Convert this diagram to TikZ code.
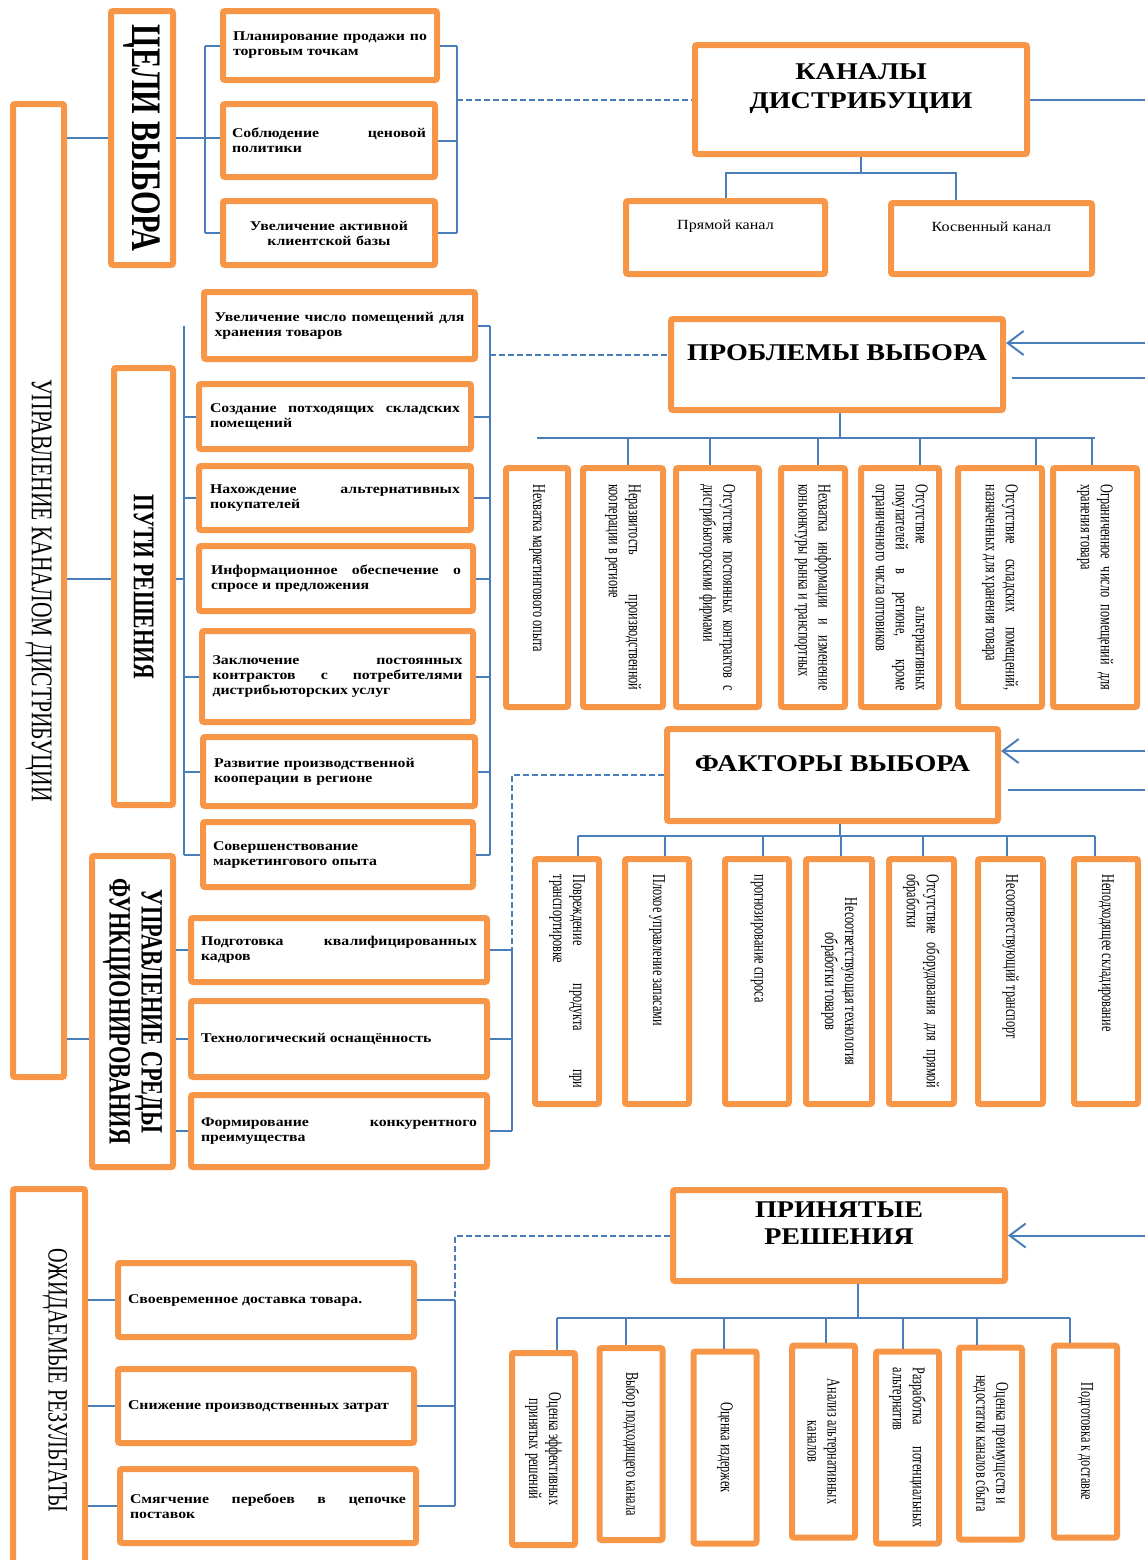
\documentclass[tikz,border=0pt]{standalone}
\usepackage{graphicx}
\usepackage{fontspec}
\setmainfont{Liberation Serif}
\newfontfamily\wideserif[FakeStretch=1.18]{Liberation Serif}
\newfontfamily\titleserif[FakeStretch=1.17]{Liberation Serif}
\newfontfamily\plainserif[FakeStretch=1.15]{Liberation Serif}
\newfontfamily\narrowserif[FakeStretch=0.72]{Liberation Serif}
\newfontfamily\slimserif[FakeStretch=0.68]{Liberation Serif}
\usetikzlibrary{arrows.meta}
\usetikzlibrary{calc}
\definecolor{boxorange}{HTML}{F79646}
\definecolor{linkblue}{HTML}{4A7EBB}
\hyphenpenalty=10000
\exhyphenpenalty=10000
\hbadness=10000
\vbadness=10000
\hfuzz=3pt

\newcommand\leftfont{\wideserif\bfseries\fontsize{6.7}{7.5}\selectfont}
\newcommand\sidefont{\slimserif\fontsize{9}{10}\selectfont}
\newcommand\sidetext[2]{\rotatebox{-90}{\begin{minipage}{#1}\sidefont #2\end{minipage}}}

\tikzset{
    channel box/.style={
        draw=boxorange,
        line width=3pt,
        rounded corners=1pt,
        inner sep=0pt,
    },
    goal box/.style={
        channel box,
        text width=97pt,
        align=justify,
        font=\leftfont,
    },
    way box/.style={
        goal box,
        text width=125pt,
    },
    result box/.style={
        goal box,
        text width=138pt,
    },
    title text/.style={
        inner sep=0pt,
        align=center,
        font=\titleserif\bfseries\fontsize{12}{14.5}\selectfont,
    },
    channel text/.style={
        inner sep=0pt,
        font=\plainserif\fontsize{7}{8.5}\selectfont,
    },
    link line/.style={
        draw=linkblue,
        line width=1pt,
    },
    dashed link/.style={
        link line,
        dash pattern=on 3pt off 1.5pt,
    },
    feed arrow/.style={
        link line,
        -{Straight Barb[length=8pt,width=12pt]},
    },
}

\begin{document}
\begin{tikzpicture}[x=0.5pt, y=-0.5pt]

    \useasboundingbox (0,0) rectangle (1145,1560);
    \coordinate (edge) at (1150,0);

    % left column
    \node[channel box, minimum width=25.5pt, minimum height=486.5pt] (upr) at (38.5,590.5)
        {\rotatebox{-90}{\narrowserif\fontsize{15}{16}\selectfont УПРАВЛЕНИЕ КАНАЛОМ ДИСТРИБУЦИИ}};
    \node[channel box, minimum width=31pt, minimum height=127pt] (celi) at (142,138)
        {\rotatebox{-90}{\narrowserif\bfseries\fontsize{21}{21}\selectfont ЦЕЛИ ВЫБОРА}};
    \node[channel box, minimum width=29.5pt, minimum height=218.5pt] (puti) at (143.5,586.5)
        {\rotatebox{-90}{\narrowserif\bfseries\fontsize{15}{15}\selectfont ПУТИ РЕШЕНИЯ}};
    \node[channel box, minimum width=40.5pt, minimum height=155.5pt] (sredy) at (132.5,1011.5)
        {\rotatebox{-90}{\begin{minipage}{150pt}\centering\narrowserif\bfseries\fontsize{15.5}{16}\selectfont
            УПРАВЛЕНИЕ СРЕДЫ\\ФУНКЦИОНИРОВАНИЯ\end{minipage}}};
    \node[channel box, minimum width=36pt, minimum height=191.5pt] (res) at (49,1380.5)
        {\rotatebox{-90}{\raisebox{9pt}{\narrowserif\fontsize{14}{16}\selectfont ОЖИДАЕМЫЕ РЕЗУЛЬТАТЫ}}};

    % goals
    \node[goal box, minimum width=107pt, minimum height=34.5pt] (g1) at (330,45.5)
        {Планирование продажи по\linebreak торговым точкам};
    \node[goal box, minimum width=106pt, minimum height=36.5pt] (g2) at (329,140.5)
        {Соблюдение ценовой\linebreak политики};
    \node[goal box, minimum width=106pt, minimum height=32pt, align=center] (g3) at (329,233)
        {Увеличение активной\\клиентской базы};

    % ways
    \node[way box, minimum width=135.5pt, minimum height=33.5pt] (s1) at (339.5,325.5)
        {Увеличение число помещений для\linebreak хранения товаров};
    \node[way box, minimum width=136pt, minimum height=32.5pt] (s2) at (335,416.5)
        {Создание потходящих складских\linebreak помещений};
    \node[way box, minimum width=136pt, minimum height=32pt] (s3) at (335,498)
        {Нахождение альтернативных\linebreak покупателей};
    \node[way box, minimum width=137pt, minimum height=32.5pt] (s4) at (336,578.5)
        {Информационное обеспечение о\linebreak спросе и предложения};
    \node[way box, minimum width=135.5pt, minimum height=45.5pt] (s5) at (337.5,676.5)
        {Заключение постоянных\linebreak контрактов с потребителями\linebreak дистрибьюторских услуг};
    \node[way box, minimum width=136pt, minimum height=34.5pt, align=left] (s6) at (339,771.5)
        {Развитие производственной\\кооперации в регионе};
    \node[way box, minimum width=135pt, minimum height=32.5pt, align=left] (s7) at (338,854.5)
        {Совершенствование\\маркетингового опыта};

    % environment
    \node[result box, minimum width=148pt, minimum height=32pt] (e1) at (339,950)
        {Подготовка квалифицированных\linebreak кадров};
    \node[result box, minimum width=148pt, minimum height=38pt] (e2) at (339,1039)
        {Технологический оснащённость};
    \node[result box, minimum width=148pt, minimum height=36pt] (e3) at (339,1131)
        {Формирование конкурентного\linebreak преимущества};

    % results
    \node[result box, minimum width=148pt, minimum height=37pt] (r1) at (266,1300)
        {Своевременное доставка товара.};
    \node[result box, minimum width=148pt, minimum height=37pt] (r2) at (266,1406)
        {Снижение производственных затрат};
    \node[result box, minimum width=148pt, minimum height=37pt] (r3) at (268,1506)
        {Смягчение перебоев в цепочке\linebreak поставок};

    % channels
    \node[channel box, minimum width=166pt, minimum height=54.5pt] (kanaly) at (861,99.5) {};
    \node[title text] (kanalyText) at ([yshift=5.5pt]kanaly.center) {КАНАЛЫ\\ДИСТРИБУЦИИ};
    \node[channel box, minimum width=99.5pt, minimum height=36.5pt] (direct) at (725.5,237.5) {};
    \node[channel text] (directText) at ([yshift=5.75pt]direct.center) {Прямой канал};
    \node[channel box, minimum width=100.5pt, minimum height=35.5pt] (indirect) at (991.5,238.5) {};
    \node[channel text] (indirectText) at ([yshift=5.75pt]indirect.center) {Косвенный канал};

    % problems
    \node[channel box, minimum width=166pt, minimum height=45.5pt] (prob) at (837,364.5) {};
    \node[title text] (probText) at ([yshift=5.75pt]prob.center) {ПРОБЛЕМЫ ВЫБОРА};
    \foreach \n/\x/\w/\txt in {
        1/537/31pt/{Нехватка маркетингового опыта},
        2/623/40pt/{Неразвитость производственной\linebreak кооперации в регионе},
        3/717.5/41.5pt/{Отсутствие постоянных контрактов с\linebreak дистрибьюторскими фирмами},
        4/813/32pt/{Нехватка информации и изменение\linebreak коньюнктуры рынка и транспортных},
        5/900/39pt/{Отсутствие альтернативных\linebreak покупателей в регионе, кроме\linebreak ограниченного числа оптовиков},
        6/1000/42pt/{Отсутствие складских помещений,\linebreak назначенных для хранения товара},
        7/1095/42pt/{Ограниченное число помещений для\linebreak хранения товара}}
    {
        \node[channel box, minimum width=\w, minimum height=119.5pt] (p\n) at (\x,587.5) {\sidetext{103pt}{\txt}};
    }

    % factors
    \node[channel box, minimum width=165.5pt, minimum height=46pt] (fact) at (832.5,775) {};
    \node[title text] (factText) at ([yshift=5.5pt]fact.center) {ФАКТОРЫ ВЫБОРА};
    \foreach \n/\x/\w/\txt in {
        1/567/32pt/{Повреждение продукта при\linebreak транспортировке},
        2/657/32pt/{Плохое управление запасами},
        3/757/32pt/{прогнозирование спроса},
        4/839/33pt/{\centering Несоответствующая технология\\обработки товаров},
        5/921.5/32.5pt/{Отсутствие оборудования для прямой\linebreak обработки},
        6/1010.5/32.5pt/{Несоответствующий транспорт},
        7/1106/32pt/{Неподходящее складирование}}
    {
        \node[channel box, minimum width=\w, minimum height=122.5pt] (f\n) at (\x,981.5) {\sidetext{107pt}{\txt}};
    }

    % decisions
    \node[channel box, minimum width=166pt, minimum height=45.5pt] (prin) at (839,1235.5) {};
    \node[title text, font=\titleserif\bfseries\fontsize{12}{13.5}\selectfont] (prinText) at ([yshift=6pt]prin.center)
        {ПРИНЯТЫЕ\\РЕШЕНИЯ};
    \foreach \n/\x/\y/\txt in {
        1/543.5/1449/{\centering Оценка эффективных\\принятых решений},
        2/631/1444/{\centering Выбор подходящего канала},
        3/725/1447.5/{\centering Оценка издержек},
        4/823.5/1441.5/{\centering Анализ альтернативных\\каналов},
        5/907.5/1447.5/{Разработка потенциальных\linebreak альтернатив},
        6/990.5/1443.5/{\centering Оценка преимуществ и\\недостатки каналов сбыта},
        7/1085.5/1441.5/{\centering Подготовка к доставке}}
    {
        \node[channel box, minimum width=31.5pt, minimum height=96pt] (d\n) at (\x,\y) {\sidetext{80pt}{\txt}};
    }

    % goals links
    \coordinate (gL) at (205,0);
    \coordinate (gR) at (457,0);
    \draw[link line] (upr.east |- celi) -- (celi.west);
    \draw[link line] (celi.east) -- (celi.east -| g2.west);
    \draw[link line] (gL |- g1) -- (gL |- g3);
    \foreach \n in {1,3}
        \draw[link line] (gL |- g\n) -- (g\n.west);
    \foreach \n in {1,2,3}
        \draw[link line] (g\n.east) -- (gR |- g\n);
    \draw[link line] (gR |- g1) -- (gR |- g3);
    \draw[dashed link] (kanaly.west -| gR) -- (kanaly.west);

    % channel links
    \draw[link line] (kanaly.east) -- (kanaly.east -| edge);
    \draw[link line] (kanaly.south) -- ++(0,16) coordinate (kbus);
    \draw[link line] (direct.north) |- (kbus) -| ([xshift=-18pt]indirect.north);

    % ways links
    \coordinate (sL) at (184,0);
    \coordinate (sR) at (490,0);
    \draw[link line] (upr.east |- s4) -- (puti.west |- s4);
    \draw[link line] (puti.east |- s4) -- (sL |- s4);
    \draw[link line] (sL |- s1) -- (sL |- s7);
    \foreach \n in {2,3,5,6,7}
        \draw[link line] (sL |- s\n) -- (s\n.west);
    \foreach \n in {1,...,7}
        \draw[link line] (s\n.east) -- (sR |- s\n);
    \draw[link line] (sR |- s1) -- (sR |- s7);
    \draw[dashed link] ([yshift=4.75pt]prob.west -| sR) -- ([yshift=4.75pt]prob.west);

    % problem links
    \draw[feed arrow] ([yshift=10.75pt]prob.east -| edge) -- ([yshift=10.75pt]prob.east);
    \draw[link line] ([shift={(3pt,-6.75pt)}]prob.east) -- ([yshift=-6.75pt]prob.east -| edge);
    \draw[link line] ([xshift=1.5pt]prob.south) -- ++(0,25) coordinate (pbus);
    \draw[link line] (p1.north |- pbus) -- (p7.north |- pbus);
    \foreach \n/\dx in {2/2.5pt,3/-3.75pt,4/2.5pt,5/10pt,6/18pt,7/-1.5pt}
        \draw[link line] ([xshift=\dx]p\n.north) coordinate (drop) -- (drop |- pbus);

    % factor links
    \draw[feed arrow] ([yshift=12pt]fact.east -| edge) -- ([yshift=12pt]fact.east);
    \draw[link line] ([shift={(3.5pt,-7.5pt)}]fact.east) -- ([yshift=-7.5pt]fact.east -| edge);
    \draw[link line] ([xshift=3.75pt]fact.south) -- ++(0,12) coordinate (fbus);
    \draw[link line] ([xshift=5.5pt]f1.north |- fbus) -- ([xshift=-5.5pt]f7.north |- fbus);
    \foreach \n/\dx in {1/5.5pt,2/4pt,3/3pt,4/1pt,5/0.75pt,6/-1.75pt,7/-5.5pt}
        \draw[link line] ([xshift=\dx]f\n.north) coordinate (drop) -- (drop |- fbus);

    % environment links
    \coordinate (eR) at (512,0);
    \draw[link line] (upr.east |- e2) -- (sredy.west |- e2);
    \foreach \n in {1,2,3}
    {
        \draw[link line] (sredy.east |- e\n) -- (e\n.west);
        \draw[link line] (e\n.east) -- (eR |- e\n);
    }
    \draw[link line] (eR |- e1) -- (eR |- e3);
    \draw[dashed link] (fact.west) -| (eR |- e1);

    % result links
    \coordinate (rR) at (455,0);
    \foreach \n in {1,2,3}
    {
        \draw[link line] (res.east |- r\n) -- (r\n.west);
        \draw[link line] (r\n.east) -- (rR |- r\n);
    }
    \draw[link line] (rR |- r1) -- (rR |- r3);
    \draw[dashed link] (prin.west) -| (rR |- r1);

    % decision links
    \draw[feed arrow] (prin.east -| edge) -- (prin.east);
    \draw[link line] ([xshift=9.5pt]prin.south) -- ++(0,34) coordinate (dbus);
    \draw[link line] ([xshift=6.75pt]d1.north |- dbus) -- ([xshift=-7.75pt]d7.north |- dbus);
    \foreach \n/\dx in {1/6.75pt,2/-2.5pt,3/-0.5pt,4/1.25pt,5/-2.25pt,6/-6.75pt,7/-7.75pt}
        \draw[link line] ([xshift=\dx]d\n.north) coordinate (drop) -- (drop |- dbus);

\end{tikzpicture}
\end{document}
